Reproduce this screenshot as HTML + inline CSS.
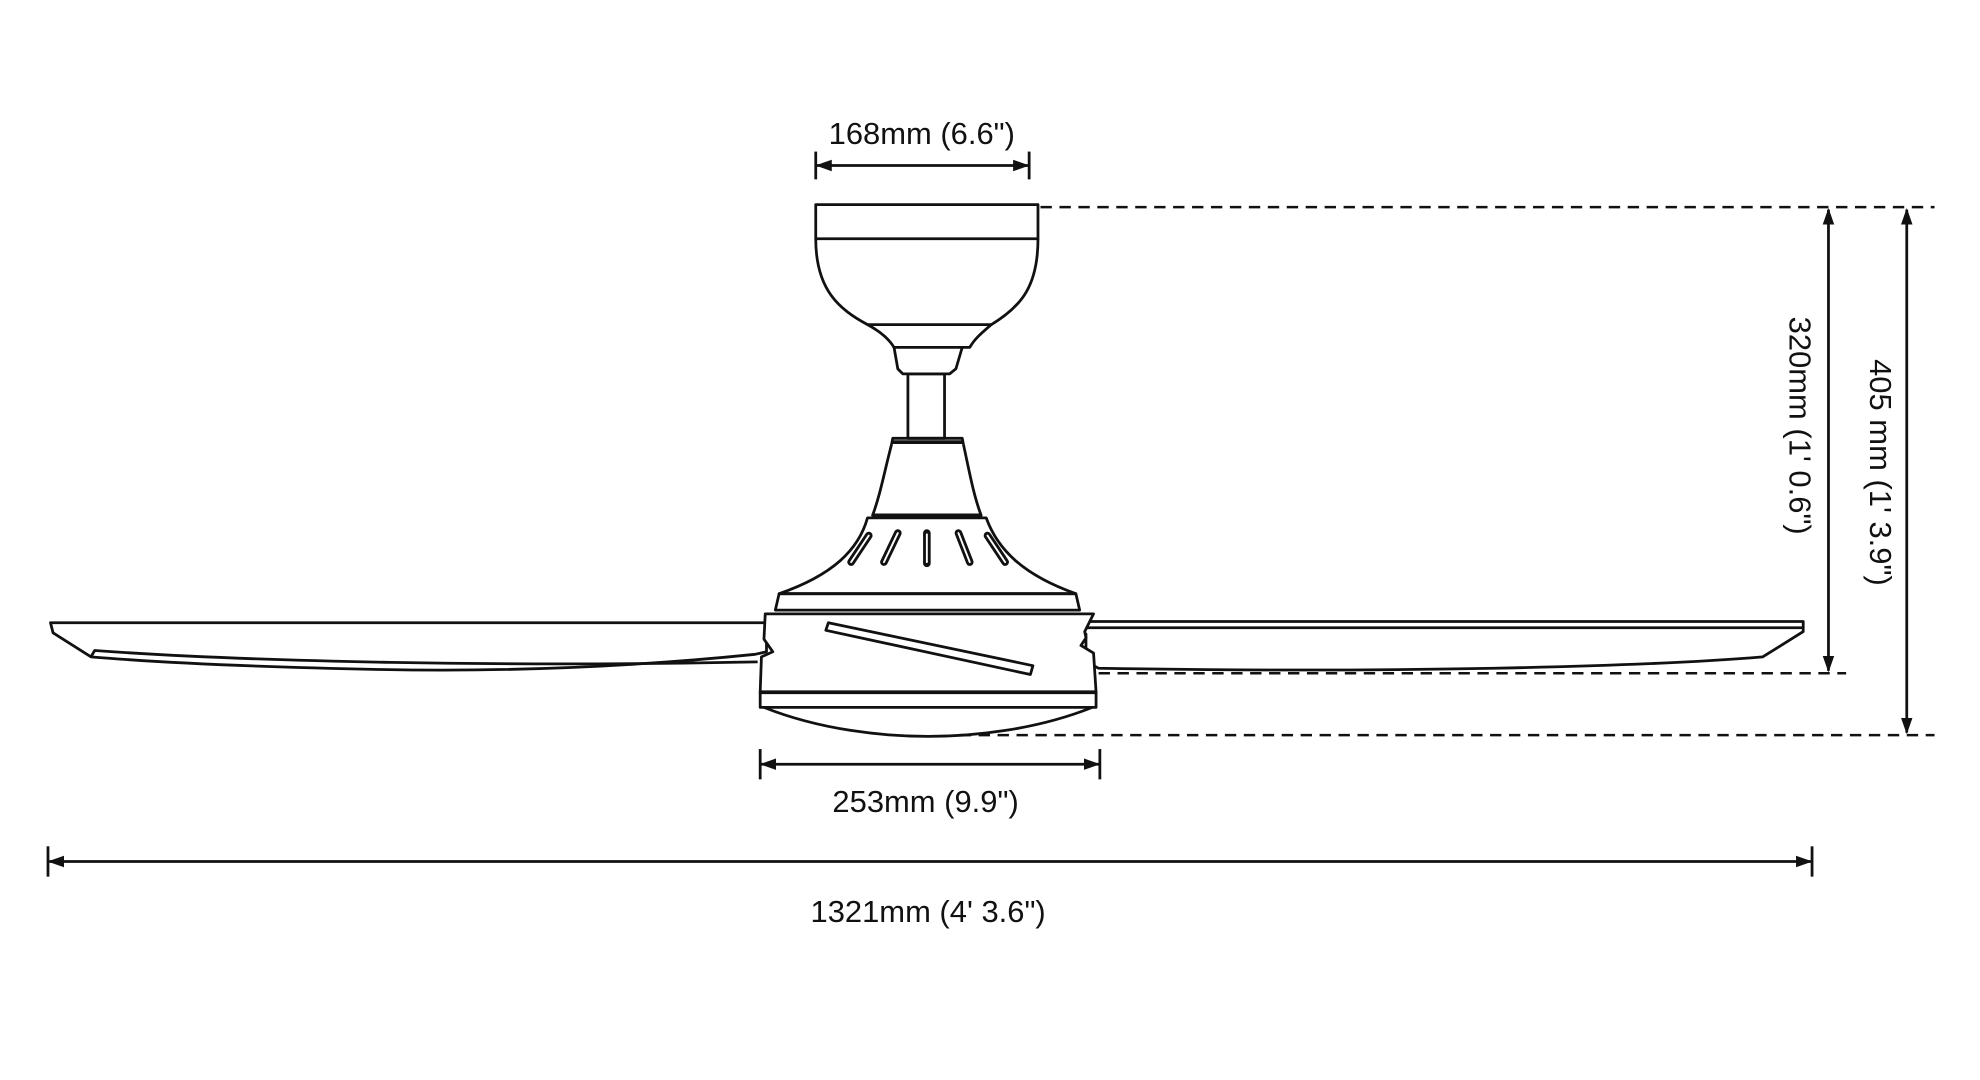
<!DOCTYPE html>
<html><head><meta charset="utf-8"><style>
html,body{margin:0;padding:0;background:#fff;}
svg{display:block;}
text{font-family:"Liberation Sans",Arial,sans-serif;font-size:24.5px;fill:#111;}
</style></head><body>
<svg width="1980" height="1080" viewBox="0 0 1568 855" preserveAspectRatio="none" xmlns="http://www.w3.org/2000/svg">
<defs>
<marker id="a" viewBox="0 0 10 10" refX="9" refY="5" markerWidth="13" markerHeight="13" orient="auto-start-reverse" markerUnits="userSpaceOnUse"><path d="M0,1.5 L10,5 L0,8.5 Z" fill="#111"/></marker>
</defs>
<g fill="none" stroke="#111" stroke-width="2.2" stroke-linejoin="round">
<line x1="647" y1="131" x2="814" y2="131" marker-start="url(#a)" marker-end="url(#a)"/>
<line x1="646" y1="120" x2="646" y2="142"/><line x1="815" y1="120" x2="815" y2="142"/>
<path d="M646,189 C646,230 665,245 687,257 C700,264 705,270 708,275 L768,275 C772,268 777,264 785,257 C810,242 822,225 822,189" fill="#fff"/>
<rect x="646" y="162" width="176" height="27" fill="#fff"/>
<line x1="687" y1="257" x2="785" y2="257"/>
<path d="M708,275 L711,292 L715,296 L752,296 L757,292 L762,275"/>
<rect x="719" y="296" width="29" height="51"/>
<path d="M706,352 L707,347 L762,347 L763,352" />
<line x1="706" y1="350" x2="763" y2="350" stroke-width="3"/>
<path d="M706,352 C700,375 697,392 691,408 L777,408 C771,392 768,375 763,352"/>
<line x1="691" y1="408" x2="777" y2="408" stroke-width="3"/>
<path d="M687,410 C680,435 660,455 617,470 L852,470 C810,455 790,435 781,410 Z"/>
<g stroke-width="1.8">
<path d="M688,424 L674,445" stroke-width="6" stroke-linecap="round"/>
<path d="M711,422 L700,445" stroke-width="6" stroke-linecap="round"/>
<path d="M734,422 L734,446" stroke-width="6" stroke-linecap="round"/>
<path d="M759,422 L768,445" stroke-width="6" stroke-linecap="round"/>
<path d="M782,424 L796,445" stroke-width="6" stroke-linecap="round"/>
<path d="M688,424 L674,445" stroke="#fff" stroke-width="1.5" stroke-linecap="round"/>
<path d="M711,422 L700,445" stroke="#fff" stroke-width="1.5" stroke-linecap="round"/>
<path d="M734,423 L734,445" stroke="#fff" stroke-width="1.5" stroke-linecap="round"/>
<path d="M759,422 L768,445" stroke="#fff" stroke-width="1.5" stroke-linecap="round"/>
<path d="M782,424 L796,445" stroke="#fff" stroke-width="1.5" stroke-linecap="round"/>
</g>
<path d="M617,470 L614,483 L855,483 L852,470 Z"/>
<line x1="616" y1="486" x2="853" y2="486"/>
<path d="M40,493 L607,493 L607,516 L598,518 C500,528 400,532 300,530 C200,528 120,524 72,520 L42,501 Z" fill="#fff"/>
<path d="M72,520 L75,515 C200,524 400,528 600,524"/>
<path d="M842,492 L1428,492 L1428,500 L1396,520 C1300,528 1100,533 870,529 L860,524 L860,502 L842,502 Z" fill="#fff"/>
<line x1="844" y1="497" x2="1428" y2="497"/>
<path d="M606,486 L866,486 L859,500 L860,505 L856,511 L866,517 L868,548 L602,548 L603,520 L612,516 L605,506 Z" fill="#fff"/>
<path d="M656,493 L818,527 L816,534 L654,499 Z"/>
<line x1="602" y1="548" x2="868" y2="548" stroke-width="3"/>
<rect x="602" y="548" width="266" height="12"/>
<path d="M605,560 C650,578 700,583 735,583 C770,583 820,578 865,560"/>
</g>
<g stroke="#111" stroke-width="2" stroke-dasharray="9,6" fill="none">
<line x1="824" y1="164" x2="1532" y2="164"/>
<line x1="870" y1="533" x2="1462" y2="533"/>
<line x1="760" y1="582" x2="1532" y2="582"/>
</g>
<g stroke="#111" stroke-width="2.2" fill="none">
<line x1="1448" y1="166" x2="1448" y2="531" marker-start="url(#a)" marker-end="url(#a)"/>
<line x1="1510" y1="166" x2="1510" y2="580" marker-start="url(#a)" marker-end="url(#a)"/>
<line x1="603" y1="605" x2="870" y2="605" marker-start="url(#a)" marker-end="url(#a)"/>
<line x1="602" y1="593" x2="602" y2="617"/><line x1="871" y1="593" x2="871" y2="617"/>
<line x1="39" y1="682" x2="1434" y2="682" marker-start="url(#a)" marker-end="url(#a)"/>
<line x1="38" y1="670" x2="38" y2="694"/><line x1="1435" y1="670" x2="1435" y2="694"/>
</g>
<text x="730" y="114" text-anchor="middle">168mm (6.6")</text>
<text x="733" y="643" text-anchor="middle">253mm (9.9")</text>
<text x="735" y="730" text-anchor="middle">1321mm (4' 3.6")</text>
<text transform="translate(1417,337) rotate(90)" text-anchor="middle">320mm (1' 0.6")</text>
<text transform="translate(1481,374) rotate(90)" text-anchor="middle">405 mm (1' 3.9")</text>
</svg>
</body></html>
